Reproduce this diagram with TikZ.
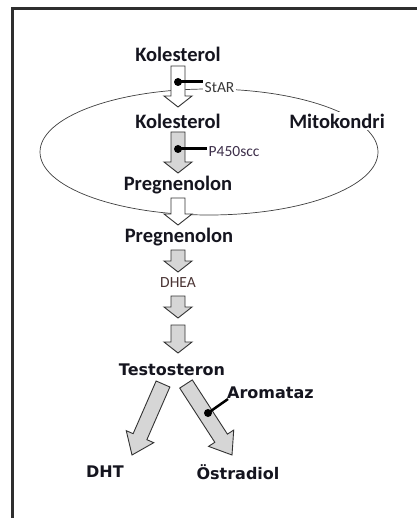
\documentclass[tikz,border=0pt]{standalone}
\usepackage{fontspec}
\setmainfont{Carlito}
\newfontfamily\dvs{DejaVu Sans}
\usetikzlibrary{calc}
\definecolor{txt}{HTML}{15151F}
\definecolor{enzc}{HTML}{3D2F4A}
\definecolor{dheac}{HTML}{4A3434}
\definecolor{agray}{HTML}{D6D6D6}
\begin{document}
\begin{tikzpicture}[x=1pt,y=-1pt,
  main/.style={font=\fontsize{20.5}{24}\selectfont\bfseries, text=txt, inner sep=0pt},
  sub/.style={font=\dvs\bfseries\fontsize{16}{19}\selectfont, text=txt, inner sep=0pt},
  enz/.style={font=\fontsize{15.5}{18}\selectfont, text=enzc, inner sep=1.5pt},
  barrow/.style n args={3}{draw=black!80, line width=0.9pt, line join=miter,
    to path={let \p1=($(\tikztotarget)!#3!(\tikztostart)$) in
      ($(\tikztostart)!#1!90:(\tikztotarget)$) -- ($(\p1)!#1!90:(\tikztotarget)$)
      -- ($(\p1)!#2!90:(\tikztotarget)$) -- (\tikztotarget)
      -- ($(\p1)!#2!-90:(\tikztotarget)$) -- ($(\p1)!#1!-90:(\tikztotarget)$)
      -- ($(\tikztostart)!#1!-90:(\tikztotarget)$) -- cycle}},
  varrow/.style={barrow={7pt}{14pt}{11pt}},
  darrow/.style={barrow={7.5pt}{15pt}{20pt}, fill=agray},
  bar/.style={line width=3pt, black},
  dotc/.style={fill=black}
]
\useasboundingbox (0,0) rectangle (417,518);
\fill[white] (0,0) rectangle (417,518);
% frame
\draw[line width=2.4pt, black!82] (417,8.5) -- (12.5,8.5) -- (12.5,518);

% mitochondrion
\draw[line width=0.7pt, black!75] (209,152) ellipse [x radius=169pt, y radius=63pt];

% arrow end points
\coordinate (a1s) at (178,66);
\coordinate (a1e) at (178,107);
\coordinate (a2s) at (178,132);
\coordinate (a2e) at (178,173);
\coordinate (a3s) at (178,198);
\coordinate (a3e) at (178,225);
\coordinate (a4s) at (178,250);
\coordinate (a4e) at (178,272);
\coordinate (a5s) at (178,296);
\coordinate (a5e) at (178,318);
\coordinate (a6s) at (178,325);
\coordinate (a6e) at (178,353);
\coordinate (bls) at (163,384);
\coordinate (ble) at (132,455);
\coordinate (brs) at (186,384);
\coordinate (bre) at (232,455);

\draw[varrow, fill=white] (a1s) to (a1e);
\draw[varrow, fill=agray] (a2s) to (a2e);
\draw[varrow, fill=white] (a3s) to (a3e);
\draw[varrow, fill=agray] (a4s) to (a4e);
\draw[varrow, fill=agray] (a5s) to (a5e);
\draw[varrow, fill=agray] (a6s) to (a6e);
\draw[darrow] (bls) to (ble);
\draw[darrow] (brs) to (bre);

% labels
\node[main] (k1) at (178,54) {Kolesterol};
\node[main] (k2) at (178,121) {Kolesterol};
\node[main] (p1) at (178,185) {Pregnenolon};
\node[main] (p2) at (179,237) {Pregnenolon};
\node[main, fill=white, inner sep=2pt] (mito) at (337,121) {Mitokondri};
\node[enz, anchor=west, fill=white, text=black!78] (star) at (203,88) {StAR};
\node[enz, anchor=west] (p450) at (207,152) {P450scc};
\node[enz, text=dheac] (dhea) at (178,283) {DHEA};
\node[sub] (t) at (172,370) {Testosteron};
\node[sub, anchor=west] (arom) at (227,393) {Aromataz};
\node[sub] (dht) at (105,472) {DHT};
\node[sub] (est) at (238,472) {Östradiol};

% enzyme markers
\coordinate (d1) at (178,82);
\coordinate (d2) at (178,149);
\coordinate (d3) at (208,413);
\coordinate (d3e) at (228,399);
\draw[bar] (d1) -- (d1 -| star.west);
\fill[dotc] (d1) circle[radius=4pt];
\draw[bar] (d2) -- (d2 -| p450.west);
\fill[dotc] (d2) circle[radius=4pt];
\draw[line width=2.5pt] (d3) -- (d3e);
\fill[dotc] (d3) circle[radius=4pt];
\end{tikzpicture}
\end{document}
